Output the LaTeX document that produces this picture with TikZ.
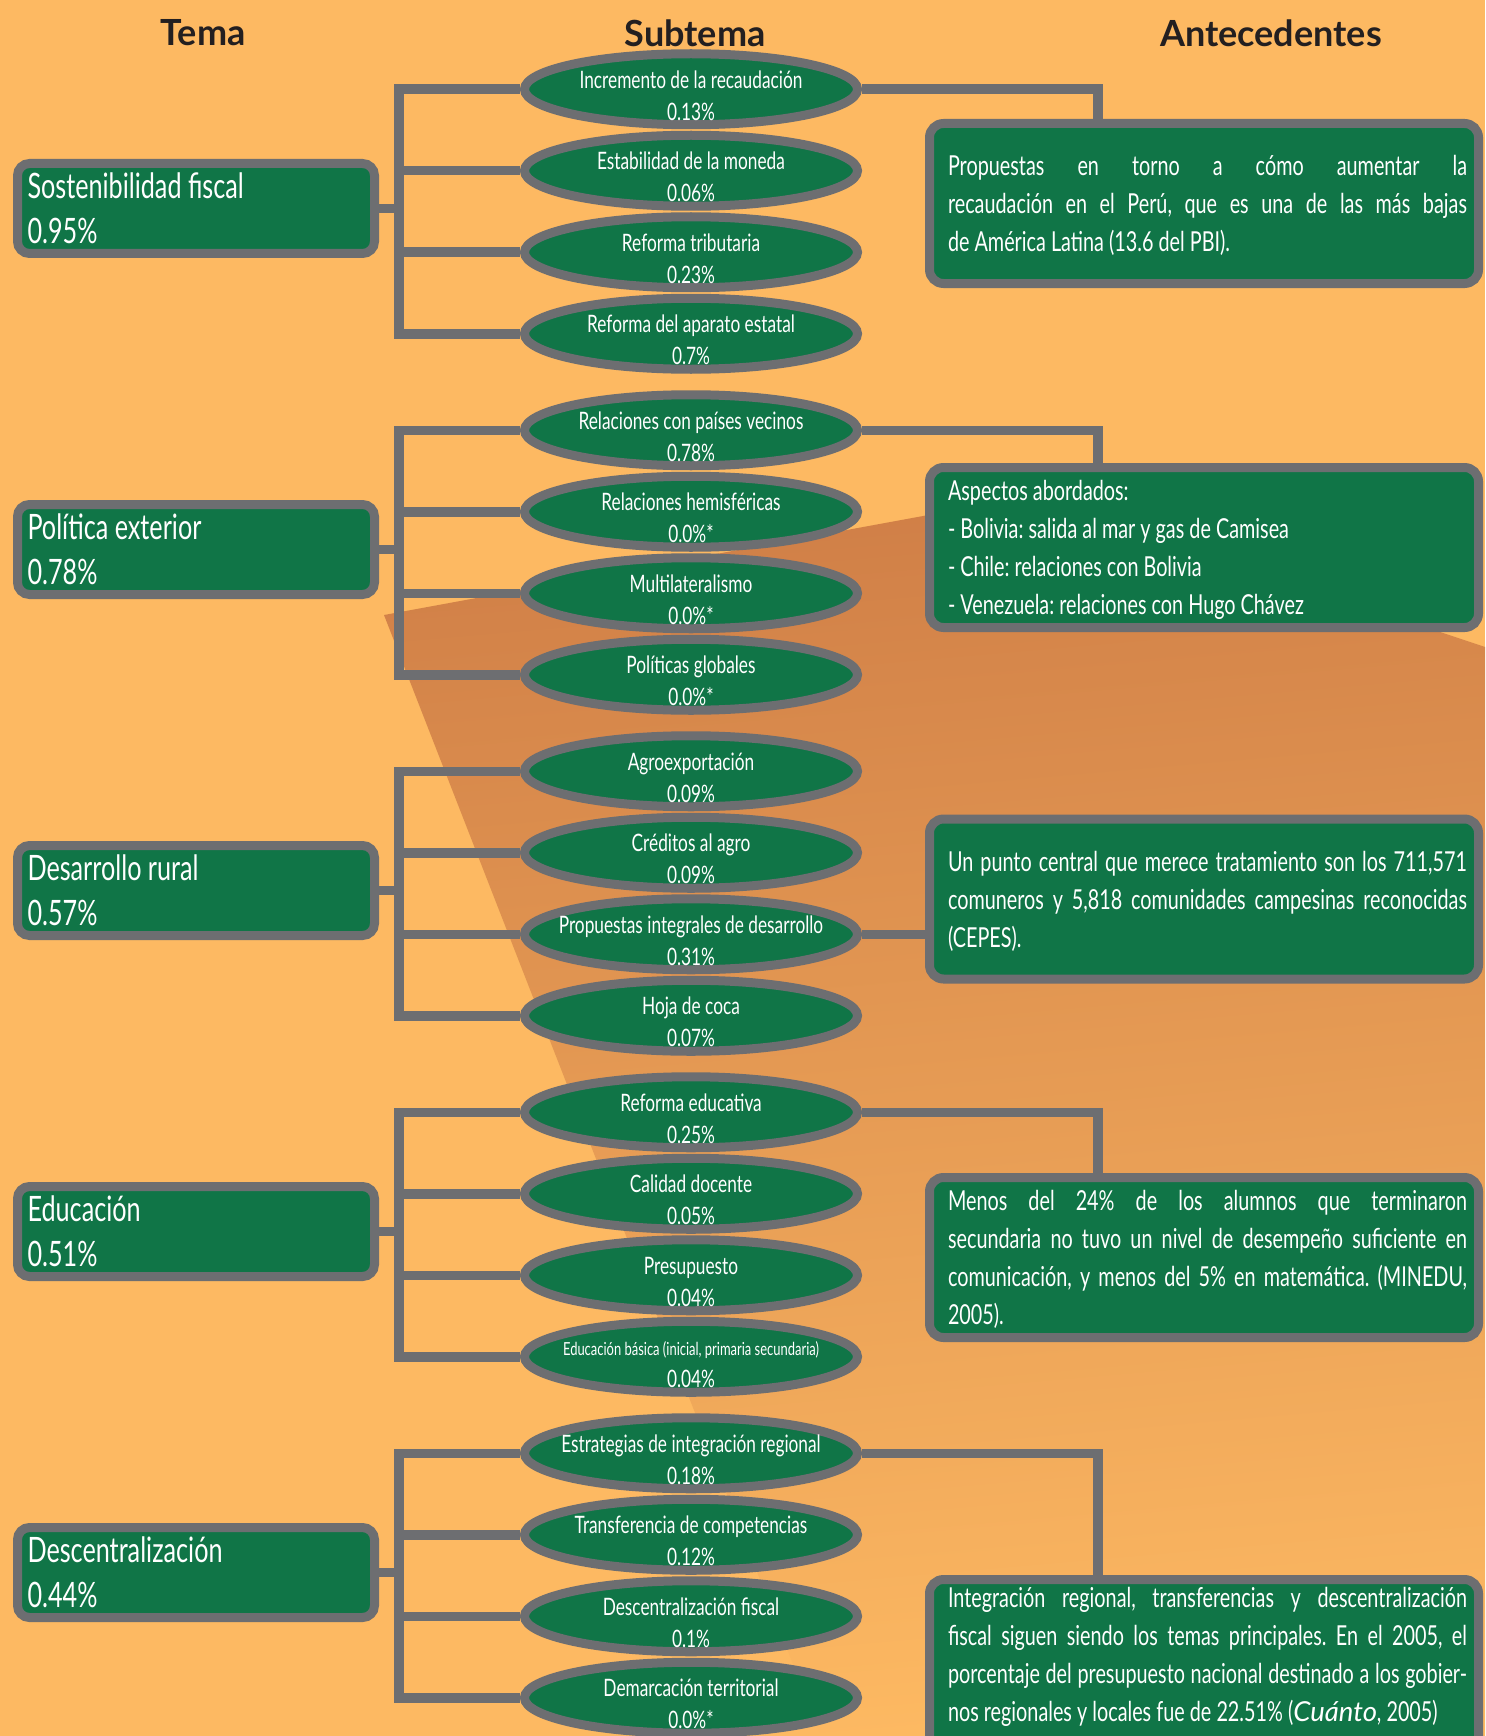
\documentclass[tikz,border=0pt]{standalone}
\usepackage{fontspec}
\setmainfont{Lato}[FakeStretch=0.72]
\newfontfamily\headfont{Lato}
\newfontfamily\citefont{Lato}
\usetikzlibrary{shapes.geometric}
\AtBeginDocument{\frenchspacing}

\definecolor{bgorange}{HTML}{FDB962}
\definecolor{darkorange}{HTML}{D07F47}
\definecolor{midorange}{HTML}{D68747}
\definecolor{boxgreen}{HTML}{107547}
\definecolor{linegray}{HTML}{6D6E71}
\definecolor{headink}{HTML}{231F20}

% one line of an antecedent box, spread to the full width
\newcommand{\fullline}[1]{\hspace*{7pt}\makebox[519pt][s]{\spaceskip=.1em plus 1fil\relax #1}}
\newcommand{\txtline}[1]{\hspace*{7pt}#1}

\tikzset{
  headtxt/.style={font=\headfont\bfseries\fontsize{36}{40}\selectfont, text=headink},
  temabox/.style={draw=linegray, line width=9pt, fill=boxgreen, rounded corners=12pt,
    minimum height=90pt, text width=337pt, inner xsep=10pt, text height=25pt,
    text depth=45pt, align=flush left, text=white, font=\fontsize{35}{45}\selectfont},
  subell/.style={ellipse, draw=linegray, line width=9pt, fill=boxgreen,
    minimum width=333pt, minimum height=71pt, inner xsep=-25pt, inner ysep=-12pt,
    text height=62pt, text depth=0pt, align=center, text=white,
    font=\fontsize{24}{32}\selectfont},
  antbox/.style={draw=linegray, line width=9pt, fill=boxgreen, rounded corners=14pt,
    minimum height=160pt, text width=526pt, inner xsep=11.5pt, inner ysep=8pt,
    text height=20pt, align=flush left, text=white,
    font=\fontsize{27.5}{38}\selectfont},
  conn/.style={draw=linegray, line width=9.5pt, line join=miter}
}

\begin{document}
\begin{tikzpicture}[x=1pt,y=-1pt]
  \useasboundingbox (0,0) rectangle (1485,1736);
  % background and fold
  \fill[bgorange] (0,0) rectangle (1485,1736);
  \shade[top color=darkorange, middle color=midorange, bottom color=bgorange,
    shading angle=5] (384,615) -- (1032,496) -- (1485,647) -- (1485,1736)
    -- (821,1736) -- cycle;

  % column titles
  \node[headtxt] (h1) at (203,33) {Tema};
  \node[headtxt] (h2) at (695,33) {Subtema};
  \node[headtxt] (h3) at (1271,33) {Antecedentes};

  \coordinate (bx) at (399,0);
  \coordinate (vx) at (1098,0);

  % temas
  \node[temabox] (t1) at (196,208.5) {Sostenibilidad fiscal\\0.95\%};
  \node[temabox] (t2) at (196,549.5) {Política exterior\\0.78\%};
  \node[temabox] (t3) at (196,890.5) {Desarrollo rural\\0.57\%};
  \node[temabox] (t4) at (196,1231.5) {Educación\\0.51\%};
  \node[temabox] (t5) at (196,1572.5) {Descentralización\\0.44\%};

  % subtemas
  \node[subell] (s11) at (691,89.25) {Incremento de la recaudación\\0.13\%};
  \node[subell] (s12) at (691,170.75) {Estabilidad de la moneda\\0.06\%};
  \node[subell] (s13) at (691,252.25) {Reforma tributaria\\0.23\%};
  \node[subell] (s14) at (691,333.75) {Reforma del aparato estatal\\0.7\%};

  \node[subell] (s21) at (691,430.25) {Relaciones con países vecinos\\0.78\%};
  \node[subell] (s22) at (691,511.75) {Relaciones hemisféricas\\0.0\%*};
  \node[subell] (s23) at (691,593.25) {Multilateralismo\\0.0\%*};
  \node[subell] (s24) at (691,674.75) {Políticas globales\\0.0\%*};

  \node[subell] (s31) at (691,771.25) {Agroexportación\\0.09\%};
  \node[subell] (s32) at (691,852.75) {Créditos al agro\\0.09\%};
  \node[subell] (s33) at (691,934.25) {Propuestas integrales de desarrollo\\0.31\%};
  \node[subell] (s34) at (691,1015.75) {Hoja de coca\\0.07\%};

  \node[subell] (s41) at (691,1112.25) {Reforma educativa\\0.25\%};
  \node[subell] (s42) at (691,1193.75) {Calidad docente\\0.05\%};
  \node[subell] (s43) at (691,1275.25) {Presupuesto\\0.04\%};
  \node[subell] (s44) at (691,1356.75)
    {{\fontsize{18}{32}\selectfont Educación básica (inicial, primaria secundaria)}\\0.04\%};

  \node[subell] (s51) at (691,1453.25) {Estrategias de integración regional\\0.18\%};
  \node[subell] (s52) at (691,1534.75) {Transferencia de competencias\\0.12\%};
  \node[subell] (s53) at (691,1616.25) {Descentralización fiscal\\0.1\%};
  \node[subell] (s54) at (691,1697.75) {Demarcación territorial\\0.0\%*};

  % antecedentes
  \node[antbox, text depth=76pt] (a1) at (1204,203.5)
    {\fullline{Propuestas en torno a cómo aumentar la}\\
     \fullline{recaudación en el Perú, que es una de las más bajas}\\
     \txtline{de América Latina (13.6 del PBI).}};
  \node[antbox, text depth=114pt] (a2) at (1204,547.5)
    {\txtline{Aspectos abordados:}\\
     \txtline{- Bolivia: salida al mar y gas de Camisea}\\
     \txtline{- Chile: relaciones con Bolivia}\\
     \txtline{- Venezuela: relaciones con Hugo Chávez}};
  \node[antbox, text depth=76pt] (a3) at (1204,899)
    {\fullline{Un punto central que merece tratamiento son los 711,571}\\
     \fullline{comuneros y 5,818 comunidades campesinas reconocidas}\\
     \txtline{(CEPES).}};
  \node[antbox, text depth=114pt] (a4) at (1204,1257.5)
    {\fullline{Menos del 24\% de los alumnos que terminaron}\\
     \fullline{secundaria no tuvo un nivel de desempeño suficiente en}\\
     \fullline{comunicación, y menos del 5\% en matemática. (MINEDU,}\\
     \txtline{2005).}};
  \node[antbox, anchor=north, text depth=154pt] (a5) at (1204,1575)
    {\fullline{Integración regional, transferencias y descentralización}\\
     \fullline{fiscal siguen siendo los temas principales. En el 2005, el}\\
     \fullline{porcentaje del presupuesto nacional destinado a los gobier-}\\
     \txtline{nos regionales y locales fue de 22.51\% ({\citefont\itshape Cuánto}, 2005)}};

  % brackets tema -> subtemas
  \draw[conn] (s11.west) -| (bx |- s14.west) -- (s14.west);
  \draw[conn] (s12.west) -- (bx |- s12.west);
  \draw[conn] (s13.west) -- (bx |- s13.west);
  \draw[conn] (t1.east) -- (bx |- t1.east);

  \draw[conn] (s21.west) -| (bx |- s24.west) -- (s24.west);
  \draw[conn] (s22.west) -- (bx |- s22.west);
  \draw[conn] (s23.west) -- (bx |- s23.west);
  \draw[conn] (t2.east) -- (bx |- t2.east);

  \draw[conn] (s31.west) -| (bx |- s34.west) -- (s34.west);
  \draw[conn] (s32.west) -- (bx |- s32.west);
  \draw[conn] (s33.west) -- (bx |- s33.west);
  \draw[conn] (t3.east) -- (bx |- t3.east);

  \draw[conn] (s41.west) -| (bx |- s44.west) -- (s44.west);
  \draw[conn] (s42.west) -- (bx |- s42.west);
  \draw[conn] (s43.west) -- (bx |- s43.west);
  \draw[conn] (t4.east) -- (bx |- t4.east);

  \draw[conn] (s51.west) -| (bx |- s54.west) -- (s54.west);
  \draw[conn] (s52.west) -- (bx |- s52.west);
  \draw[conn] (s53.west) -- (bx |- s53.west);
  \draw[conn] (t5.east) -- (bx |- t5.east);

  % subtema -> antecedente
  \draw[conn] (s11.east) -| (vx |- a1.north);
  \draw[conn] (s21.east) -| (vx |- a2.north);
  \draw[conn] (s33.east) -- (a3.west |- s33.east);
  \draw[conn] (s41.east) -| (vx |- a4.north);
  \draw[conn] (s51.east) -| (vx |- a5.north);
\end{tikzpicture}
\end{document}
